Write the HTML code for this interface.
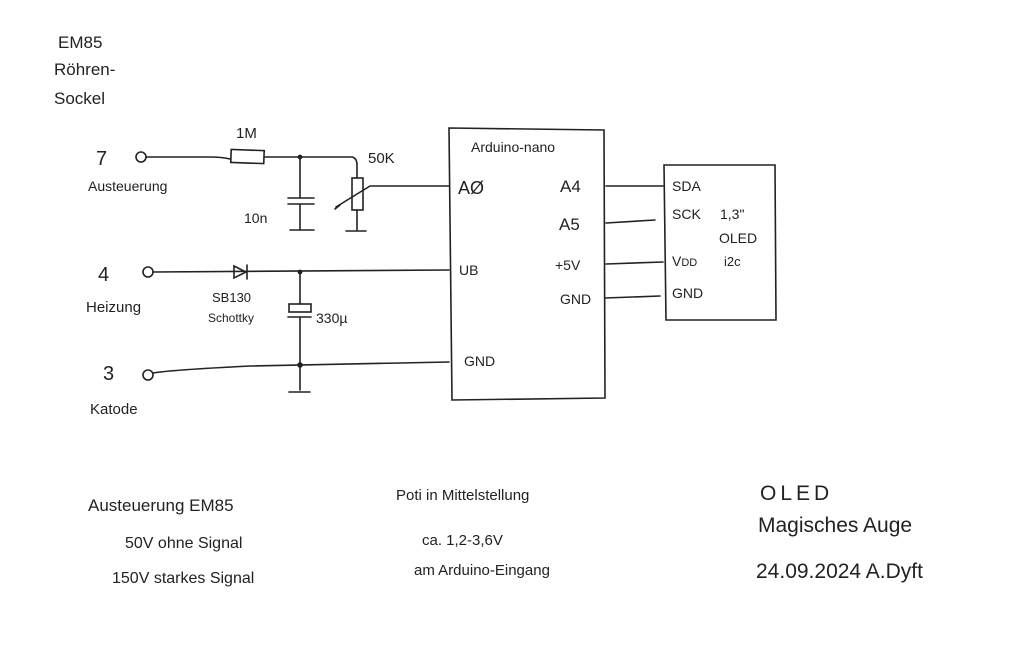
<!DOCTYPE html>
<html><head><meta charset="utf-8"><style>
html,body{margin:0;padding:0;background:#fff;}
svg{display:block}
text{font-family:"Liberation Sans",sans-serif;fill:#222;}
</style></head><body>
<svg width="1024" height="650" viewBox="0 0 1024 650" xmlns="http://www.w3.org/2000/svg">
<g stroke="#222" stroke-width="1.6" fill="none" stroke-linecap="round">
<path d="M449 128 L604 130 L605 398 L452 400 Z"/>
<path d="M664 165 L775 165 L776 320 L666 320 Z"/>
<line x1="606" y1="186" x2="663" y2="186"/>
<line x1="606" y1="223" x2="655" y2="220"/>
<line x1="606" y1="264" x2="663" y2="262"/>
<line x1="605" y1="298" x2="660" y2="296"/>
<circle cx="141" cy="157" r="5"/>
<path d="M146 157 L210 157 Q222 157 230 159"/>
<rect x="231" y="150" width="33" height="13" transform="rotate(2 247 156)"/>
<path d="M265 157 L300 157 L352 157 Q357 158 357 165 L357 178"/>
<rect x="352" y="178" width="11" height="32"/>
<line x1="357" y1="210" x2="357" y2="230"/>
<line x1="346" y1="231" x2="366" y2="231"/>
<path d="M335 209 L340 205 M336 207 L370 186 L449 186"/>
<circle cx="300" cy="157" r="1.6" fill="#222"/>
<line x1="300" y1="157" x2="300" y2="198"/>
<line x1="288" y1="198" x2="314" y2="198"/>
<line x1="288" y1="204" x2="314" y2="204"/>
<line x1="300" y1="204" x2="300" y2="230"/>
<line x1="290" y1="230" x2="314" y2="230"/>
<circle cx="148" cy="272" r="5"/>
<line x1="153" y1="272" x2="449" y2="270"/>
<path d="M234 266 L246 272 L234 278 Z"/>
<line x1="247" y1="265" x2="247" y2="279"/>
<circle cx="300" cy="272" r="1.6" fill="#222"/>
<line x1="300" y1="272" x2="300" y2="304"/>
<rect x="289" y="304" width="22" height="8"/>
<line x1="288" y1="317" x2="311" y2="317"/>
<line x1="300" y1="317" x2="300" y2="390"/>
<line x1="289" y1="392" x2="310" y2="392"/>
<circle cx="148" cy="375" r="5"/>
<path d="M153 373 Q170 370 250 366 L449 362"/>
<circle cx="300" cy="365" r="2" fill="#222"/>
</g>
<g font-size="15">
<text x="58" y="48" font-size="17">EM85</text>
<text x="54" y="75" font-size="17">Röhren-</text>
<text x="54" y="104" font-size="17">Sockel</text>
<text x="96" y="165" font-size="20">7</text>
<text x="88" y="191" font-size="14">Austeuerung</text>
<text x="236" y="138" font-size="15">1M</text>
<text x="368" y="163" font-size="15">50K</text>
<text x="244" y="223" font-size="14">10n</text>
<text x="98" y="281" font-size="20">4</text>
<text x="86" y="312" font-size="15">Heizung</text>
<text x="212" y="302" font-size="13">SB130</text>
<text x="208" y="322" font-size="12">Schottky</text>
<text x="316" y="323" font-size="14">330µ</text>
<text x="103" y="380" font-size="20">3</text>
<text x="90" y="414" font-size="15">Katode</text>
<text x="471" y="152" font-size="14">Arduino-nano</text>
<text x="458" y="194" font-size="18">AØ</text>
<text x="560" y="192" font-size="17">A4</text>
<text x="559" y="230" font-size="17">A5</text>
<text x="555" y="270" font-size="14">+5V</text>
<text x="560" y="304" font-size="14">GND</text>
<text x="459" y="275" font-size="14">UB</text>
<text x="464" y="366" font-size="14">GND</text>
<text x="672" y="191" font-size="14">SDA</text>
<text x="672" y="219" font-size="14">SCK</text>
<text x="672" y="266" font-size="14">V<tspan font-size="11">DD</tspan></text>
<text x="672" y="298" font-size="14">GND</text>
<text x="720" y="219" font-size="14">1,3"</text>
<text x="719" y="243" font-size="14">OLED</text>
<text x="724" y="266" font-size="13">i2c</text>
<text x="88" y="511" font-size="17">Austeuerung EM85</text>
<text x="125" y="548" font-size="16">50V ohne Signal</text>
<text x="112" y="583" font-size="16">150V starkes Signal</text>
<text x="396" y="500" font-size="15">Poti in Mittelstellung</text>
<text x="422" y="545" font-size="15">ca. 1,2-3,6V</text>
<text x="414" y="575" font-size="15">am Arduino-Eingang</text>
<text x="760" y="500" font-size="21" letter-spacing="4">OLED</text>
<text x="758" y="532" font-size="21">Magisches Auge</text>
<text x="756" y="578" font-size="21">24.09.2024 A.Dyft</text>
</g>
</svg>
</body></html>
